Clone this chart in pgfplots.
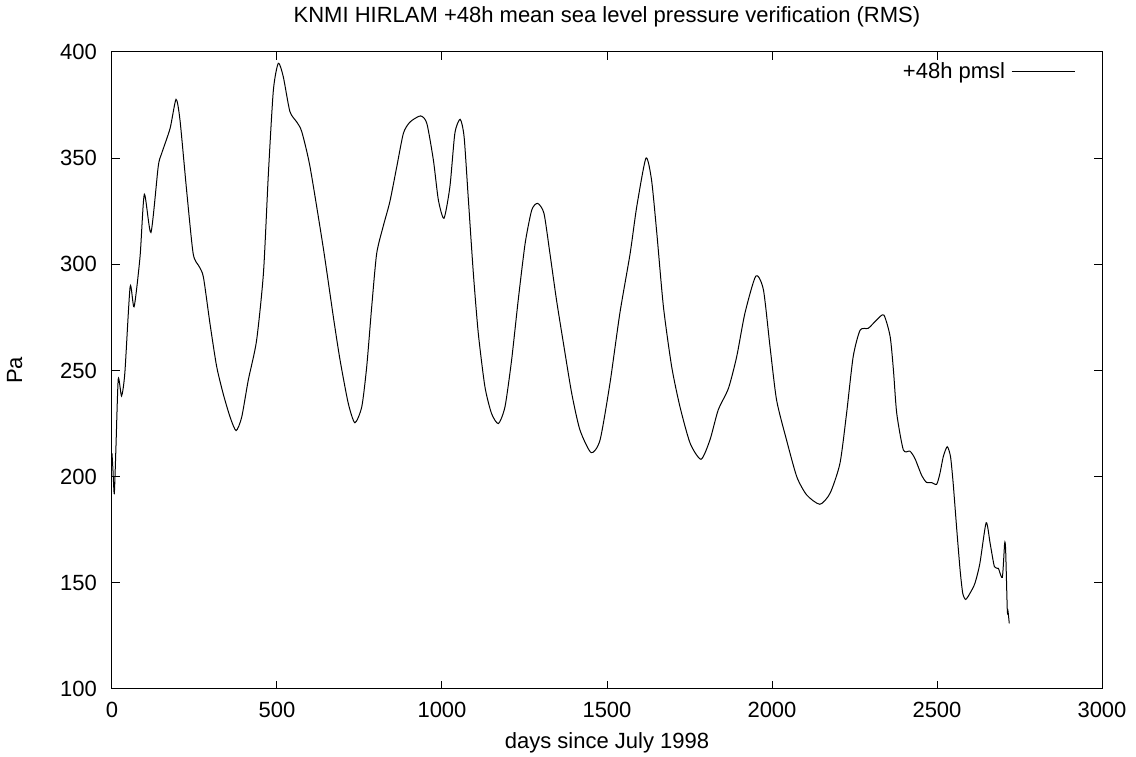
\documentclass[border=0pt]{standalone}
\usepackage{fontspec}
\setmainfont{Liberation Sans}
\usepackage{pgfplots}
\pgfplotsset{compat=1.18}

\begin{document}
\fontsize{22}{26}\selectfont
\begin{tikzpicture}
\begin{axis}[
    at={(0,0)}, anchor=south west,
    width=990pt, height=637pt,
    scale only axis,
    xmin=0, xmax=3000,
    ymin=100, ymax=400,
    xtick={0,500,1000,1500,2000,2500,3000},
    ytick={100,150,200,250,300,350,400},
    tickpos=both,
    tick align=inside,
    major tick length=8pt,
    axis line style={line width=1pt},
    major tick style={black, line width=1pt},
    /pgf/number format/assume math mode=true,
    /pgf/number format/set thousands separator={},
    xticklabel style={anchor=base, yshift=-29pt, inner sep=0pt},
    yticklabel style={anchor=east, xshift=-15pt, inner sep=0pt},
    title={KNMI HIRLAM +48h mean sea level pressure verification (RMS)},
    title style={at={(axis description cs:0.5,1.0361)}, anchor=base, inner sep=0pt},
    xlabel={days since July 1998},
    xlabel style={at={(axis description cs:0.5,-0.0942)}, anchor=base, inner sep=0pt},
    ylabel={Pa},
    ylabel style={at={(axis description cs:-0.0909,0.5)}, anchor=base, inner sep=0pt},
    legend style={at={(axis description cs:0.973,0.9686)}, anchor=east,
        draw=none, fill=none, inner sep=0pt, font=\fontsize{22}{26}\selectfont,
        nodes={inner sep=6pt}},
    legend plot pos=right,
    legend image code/.code={\draw[#1] (0pt,0pt) -- (63pt,0pt);},
]
% +48h pmsl RMS
\addplot[black, line width=1pt, smooth, tension=0.4] coordinates {
(0,211) (3,203) (7,192) (12,214) (19,246) (29,238) (39,249) (55,289.5)
(67,280) (85,303.6) (98,333) (118,315) (140,346) (150,352) (176,364)
(194,377.7) (206,368) (226,335) (246,305) (264,299) (277,294) (297,272)
(317,252) (337,239) (358,228) (376,221.7) (393,228) (413,245.5) (438,264)
(459,296) (474,343) (489,382) (504,394.7) (519,388.4) (539,372) (560,367)
(575,362.5) (600,346) (640,308) (671,275) (691,255) (716,234.5) (736,225.4)
(757,233) (772,252) (787,280) (802,305) (822,318) (842,329.5) (863,346)
(883,361.7) (903,367) (935,369.9) (954,366.4) (974,349) (989,330.3)
(1006,321.7) (1024,336.6) (1039,361.7) (1055,368.3) (1067,360) (1080,330.3)
(1095,295.8) (1110,267.5) (1130,242.4) (1150,229.8) (1171,225) (1191,233)
(1211,255) (1231,283.2) (1252,309.9) (1272,325.6) (1290,328.7) (1309,324)
(1327,305.2) (1347,283.2) (1368,262.8) (1393,239.3) (1418,222) (1452,211.3)
(1479,217.3) (1509,244) (1539,277) (1570,305) (1590,327) (1618,350)
(1635,339.7) (1651,314.6) (1671,280) (1696,251.8) (1721,233) (1752,215.7)
(1785,208.2) (1812,217.3) (1837,231.4) (1868,241.6) (1893,256.5) (1918,277)
(1951,294.5) (1974,288) (1994,261.2) (2014,236) (2044,217.3) (2075,200)
(2105,191.4) (2145,187) (2176,192.2) (2206,206.3) (2226,229.8) (2246,256.5)
(2267,269) (2292,269.9) (2317,273.8) (2339,276.1) (2358,266) (2368,250.2)
(2378,229.8) (2398,212.6) (2418,212) (2433,208.6) (2453,200.8) (2468,197.3)
(2484,197.2) (2499,196.4) (2509,201.6) (2519,209.4) (2531,214.1) (2541,209.4)
(2549,196.9) (2560,174.9) (2570,156) (2578,145.1) (2587,142.2) (2600,145.1)
(2615,149.8) (2630,159.2) (2649,178.3) (2661,168.6) (2674,157.6) (2686,156.8)
(2698,152.6) (2705,168.6) (2708,165.5) (2713,137.2) (2715,136.9) (2719,130.9)
};
\addlegendentry{+48h pmsl}
\end{axis}
\pgfresetboundingbox
\path (-112pt,-68pt) rectangle (1024pt,689pt);
\end{tikzpicture}
\end{document}
